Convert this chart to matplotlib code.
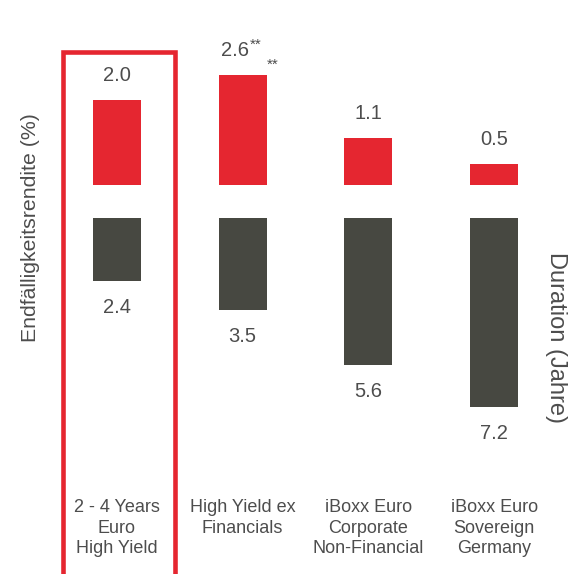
import matplotlib
matplotlib.use('Agg')
import matplotlib.pyplot as plt
from matplotlib.patches import Rectangle
import matplotlib.transforms as mtransforms

plt.rcParams['font.family'] = ['Liberation Sans', 'DejaVu Sans']

categories = ['2 - 4 Years\nEuro\nHigh Yield', 'High Yield ex\nFinancials',
              'iBoxx Euro\nCorporate\nNon-Financial', 'iBoxx Euro\nSovereign\nGermany']
rendite = [2.0, 2.6, 1.1, 0.5]
duration = [2.4, 3.5, 5.6, 7.2]
rendite_labels = ['2.0', '2.6', '1.1', '0.5']
duration_labels = ['2.4', '3.5', '5.6', '7.2']

rot = '#e52630'
grau = '#474841'
txt = '#4d4d4d'

W, H = 581, 574
fig = plt.figure(figsize=(W / 100, H / 100), dpi=100)
fig.patch.set_facecolor('white')

def px(x0, y0, x1, y1):
    # pixel box (from top left) -> figure fraction
    return [x0 / W, 1 - y1 / H, (x1 - x0) / W, (y1 - y0) / H]

x = list(range(len(categories)))

# rendite oben
ax1 = fig.add_axes(px(54, 185 - 42.5 * 3.5, 557, 185))
ax1.bar(x, rendite, width=0.38, color=rot)
ax1.set_xlim(-0.5, 3.5)
ax1.set_ylim(0, 3.5)
ax1.axis('off')
for i, (v, s) in enumerate(zip(rendite, rendite_labels)):
    if i == 1:
        ax1.annotate(s, (i, v), xytext=(6, 24.5), textcoords='offset pixels',
                     ha='right', va='center', fontsize=14.5, color=txt)
        ax1.annotate('**', (i, v), xytext=(7, 30), textcoords='offset pixels',
                     ha='left', va='center', fontsize=11, color=txt)
        ax1.annotate('**', (i, v), xytext=(24, 10), textcoords='offset pixels',
                     ha='left', va='center', fontsize=11, color=txt)
    else:
        ax1.annotate(s, (i, v), xytext=(0, 24.5), textcoords='offset pixels',
                     ha='center', va='center', fontsize=14.5, color=txt)

# duration unten
ax2 = fig.add_axes(px(54, 218, 557, 218 + 26.2 * 8))
ax2.bar(x, duration, width=0.38, color=grau)
ax2.set_xlim(-0.5, 3.5)
ax2.set_ylim(8, 0)
ax2.axis('off')
for i, (v, s) in enumerate(zip(duration, duration_labels)):
    ax2.annotate(s, (i, v), xytext=(0, -26.5), textcoords='offset pixels',
                 ha='center', va='center', fontsize=14.5, color=txt)

# kategorien
trans = mtransforms.blended_transform_factory(ax2.transData, fig.transFigure)
for i, c in enumerate(categories):
    fig.text(i, 1 - 499 / H, c, transform=trans, ha='center', va='top',
             fontsize=13, color=txt, linespacing=1.28, multialignment='center')

fig.text(31 / W, 1 - 228 / H, u'Endfälligkeitsrendite (%)', rotation=90,
         ha='center', va='center', fontsize=15.3, color=txt)
fig.text(556 / W, 1 - 337 / H, 'Duration (Jahre)', rotation=270,
         ha='center', va='center', fontsize=17, color=txt)

# rahmen um die erste kategorie
fig.patches.append(Rectangle((62.5 / W, -0.05), (174.5 - 62.5) / W, 1 - 52 / H + 0.05,
                             transform=fig.transFigure, fill=False,
                             edgecolor=rot, linewidth=3.3))

plt.savefig('out.png', dpi=100)
plt.close(fig)
